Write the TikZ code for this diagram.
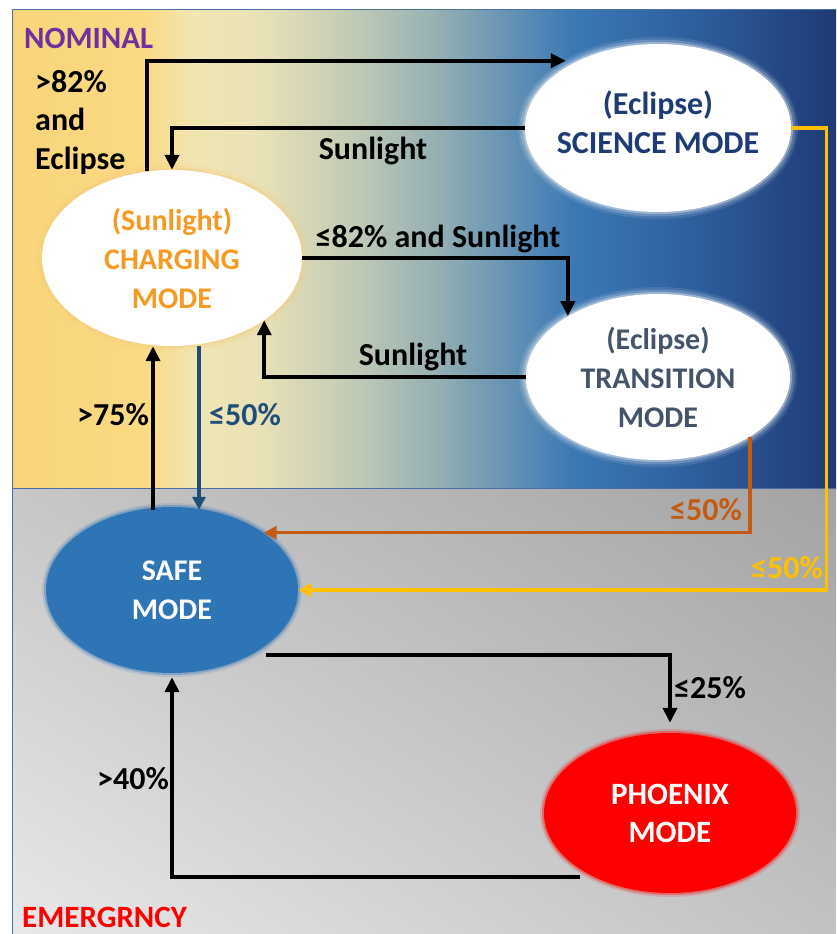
\documentclass[tikz,border=0pt]{standalone}
\usepackage{fontspec}
\setmainfont{Carlito}
\usetikzlibrary{arrows.meta,shapes.geometric,calc,shadings}
\definecolor{c0}{HTML}{F9D57A}
\definecolor{c1}{HTML}{FADA84}
\definecolor{c2}{HTML}{F1E5B2}
\definecolor{c3}{HTML}{E9E2B6}
\definecolor{c4}{HTML}{BFC9B6}
\definecolor{c5}{HTML}{93AEB3}
\definecolor{c6}{HTML}{3B79B5}
\definecolor{c7}{HTML}{2D5C9B}
\definecolor{c8}{HTML}{1E3A75}
\definecolor{nompurple}{HTML}{7030A0}
\definecolor{emred}{HTML}{FF0000}
\definecolor{chgorange}{HTML}{F59A23}
\definecolor{scinavy}{HTML}{1F3B73}
\definecolor{transslate}{HTML}{44546A}
\definecolor{safeblue}{HTML}{2E75B6}
\definecolor{darkblue}{HTML}{1F4E79}
\definecolor{rust}{HTML}{C55A11}
\definecolor{gold}{HTML}{FFC000}
\definecolor{frameblue}{HTML}{4A6FA5}
\definecolor{chgglow}{HTML}{F6CD80}
\pgfdeclarehorizontalshading{topgrad}{100bp}{color(0bp)=(c0); color(25bp)=(c0); color(33bp)=(c1); color(36bp)=(c2); color(40bp)=(c3); color(46bp)=(c4); color(51bp)=(c5); color(59bp)=(c6); color(67bp)=(c7); color(75bp)=(c8); color(100bp)=(c8)}
\tikzset{
  glow/.style={preaction={draw=#1,line width=14pt,draw opacity=0.10},
               preaction={draw=#1,line width=9pt,draw opacity=0.18},
               preaction={draw=#1,line width=4pt,draw opacity=0.35}},
  softglow/.style={preaction={draw=#1,line width=8pt,draw opacity=0.15},
               preaction={draw=#1,line width=4pt,draw opacity=0.35}},
  modebox/.style={ellipse,inner sep=0pt,align=center,font=\fontsize{30}{39}\selectfont\bfseries},
  lbl/.style={font=\fontsize{32}{38.5}\selectfont\bfseries,inner sep=0pt},
  arr/.style={line width=4pt,-{Triangle[length=15pt,width=14pt]}},
  thinarr/.style={line width=3.3pt,-{Triangle[length=13pt,width=13pt]}},
}
\begin{document}
\begin{tikzpicture}[x=1pt,y=-1pt]
\useasboundingbox (0,0) rectangle (836,934);
\fill[white] (0,0) rectangle (836,934);
% backgrounds
\shade[upper left=black!22,upper right=black!36,lower left=black!9,lower right=black!24] (12,488) rectangle (836,934);
\shade[shading=topgrad] (12,10) rectangle (836,488);
\draw[frameblue,line width=1pt] (12,934) -- (12,10) -- (836,10);
\draw[frameblue,line width=1pt] (12,488) -- (836,488);
% mode nodes
\node[modebox,minimum width=260pt,minimum height=176pt,fill=white,glow=chgglow,text=chgorange] (charging) at (172,258) {(Sunlight)\\CHARGING\\MODE};
\node[modebox,minimum width=266pt,minimum height=168pt,fill=white,glow=white,
  label={[align=center,inner sep=0pt,text=scinavy,font=\fontsize{32}{39}\selectfont\bfseries,yshift=6pt]center:{(Eclipse)\\SCIENCE MODE}}] (science) at (658,128) {};
\node[modebox,minimum width=264pt,minimum height=166pt,fill=white,glow=white,text=transslate] (transition) at (658,377) {(Eclipse)\\TRANSITION\\MODE};
\node[modebox,minimum width=252pt,minimum height=166pt,fill=safeblue,softglow=safeblue,text=white] (safe) at (172,590) {SAFE\\MODE};
\node[modebox,minimum width=252pt,minimum height=160pt,fill=emred,softglow=emred,text=white,font=\fontsize{31}{38}\selectfont\bfseries] (phoenix) at (670,813) {PHOENIX\\MODE};
% region labels
\node[lbl,anchor=west,text=nompurple,font=\fontsize{31}{38}\selectfont\bfseries] (nominal) at (24,38) {NOMINAL};
\node[lbl,anchor=west,text=emred,font=\fontsize{31}{38}\selectfont\bfseries] (emerg) at (22,917) {EMERGRNCY};
% connectors
\draw[arr,shorten >=12pt] (charging.106) |- (science.140);
\draw[arr] (science.west) -| (charging.north);
\draw[arr] (charging.east) -| (transition.146);
\draw[arr] (transition.west) -| (charging.-34);
\draw[arr] ([xshift=-19pt,yshift=-3pt]safe.north) -- ([xshift=-19pt]safe.north |- charging.south);
\draw[thinarr,darkblue] ([xshift=27pt]charging.south) -- ([xshift=27pt,yshift=-3pt]charging.south |- safe.north);
\draw[thinarr,rust] (transition.-33) |- (safe.32);
\draw[thinarr,gold] (science.east) -- ++(35,0) |- (safe.east);
\draw[arr,shorten >=10pt,shorten <=16pt] (safe.-40) -| (phoenix.north);
\draw[arr,shorten >=4pt,shorten <=14pt] (phoenix.220) -| (safe.south);
% transition labels
\node[lbl,anchor=west,align=left] (l82) at (35,122) {>82\%\\and\\Eclipse};
\node[lbl] (lsun1) at (373,151) {Sunlight};
\node[lbl] (l82s) at (438,239) {≤82\% and Sunlight};
\node[lbl] (lsun2) at (413,357) {Sunlight};
\node[lbl] (l75) at (113,415) {>75\%};
\node[lbl,text=darkblue] (l50a) at (245,415) {≤50\%};
\node[lbl,text=rust] (l50b) at (706,510) {≤50\%};
\node[lbl,text=gold] (l50c) at (787,568) {≤50\%};
\node[lbl] (l25) at (710,688) {≤25\%};
\node[lbl] (l40) at (133,779) {>40\%};
\end{tikzpicture}
\end{document}
